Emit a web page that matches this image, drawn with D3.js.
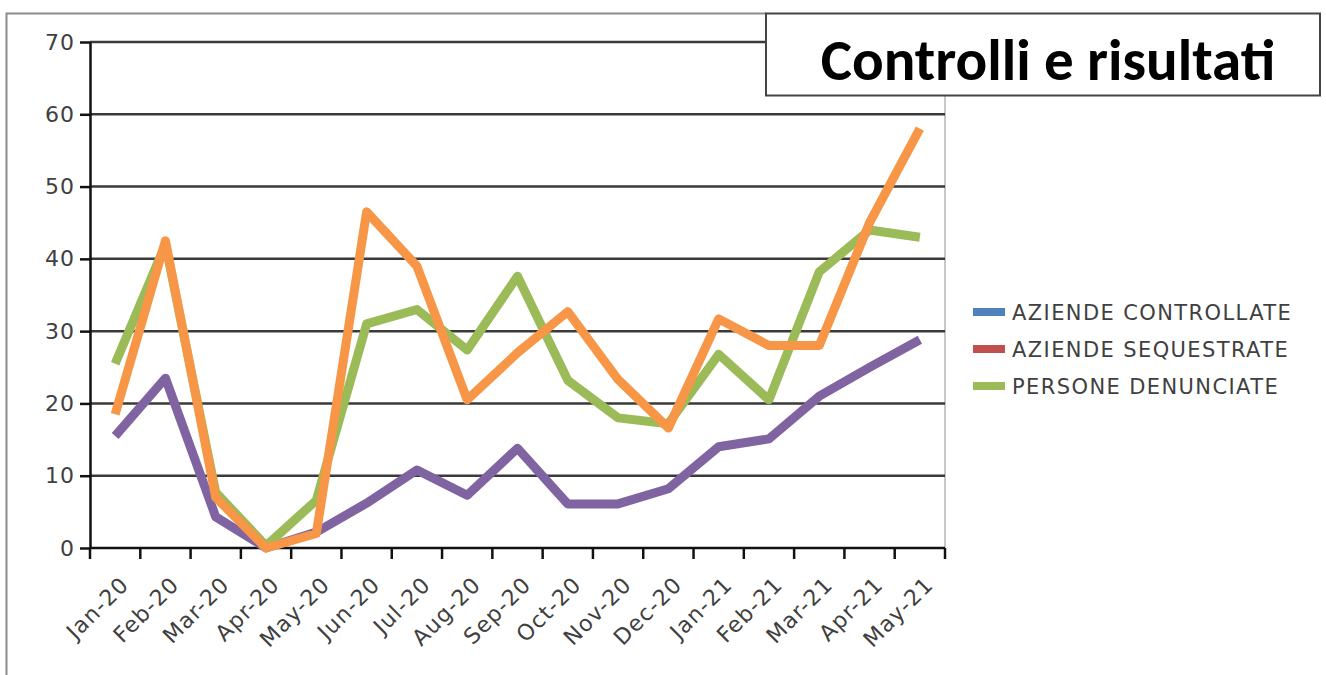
<!DOCTYPE html>
<html>
<head>
<meta charset="utf-8">
<script src="https://cdn.jsdelivr.net/npm/d3@7/dist/d3.min.js"></script>
<style>
  body { margin: 0; background: #fff; }
  svg { display: block; font-family: 'DejaVu Sans', Verdana, sans-serif; }
</style>
</head>
<body>
<div class="graph"><svg></svg></div>
<script>
// data
const months = ['Jan-20', 'Feb-20', 'Mar-20', 'Apr-20', 'May-20', 'Jun-20', 'Jul-20', 'Aug-20',
  'Sep-20', 'Oct-20', 'Nov-20', 'Dec-20', 'Jan-21', 'Feb-21', 'Mar-21', 'Apr-21', 'May-21']
const purpleValues = [15.5, 23.5, 4.3, 0, 2.2, 6.2, 10.8, 7.3, 13.8, 6.1, 6.1, 8.2, 14, 15.1, 21, 25, 28.8]
const orangeValues = [18.5, 42.5, 7, 0, 2, 46.5, 39, 20.5, 27, 32.7, 23.3, 16.6, 31.7, 28, 28, 45, 58]
const greenValues = [25.5, 42, 7.7, 0.3, 6.6, 31, 33, 27.4, 37.6, 23.2, 18, 17.2, 26.8, 20.5, 38.2, 44, 43]
const legendLabels = ['AZIENDE CONTROLLATE', 'AZIENDE SEQUESTRATE', 'PERSONE DENUNCIATE']
const legendColors = ['#4f81bd', '#c0504d', '#9bbb59']
const yTicks = [0, 10, 20, 30, 40, 50, 60, 70]
const title = 'Controlli e risultati'

const width = 1326
const height = 675
const margin = { left: 90, top: 42, right: 381, bottom: 127 }
const plotW = width - margin.left - margin.right
const plotH = height - margin.top - margin.bottom

const svg = d3.select('.graph').select('svg')
  .attr('width', width)
  .attr('height', height)

// outer frame (left + top edges visible)
svg.append('path')
  .attr('d', 'M6.5,675 V13.5 H766')
  .attr('fill', 'none')
  .attr('stroke', '#8c8c8c')
  .attr('stroke-width', 2)

const g = svg.append('g')
  .attr('transform', 'translate(' + margin.left + ',' + margin.top + ')')

const x = d3.scaleBand().domain(months).range([0, plotW])
const y = d3.scaleLinear().domain([0, 70]).range([plotH, 0])

// right edge of plot area
g.append('line')
  .attr('x1', plotW).attr('x2', plotW)
  .attr('y1', 53).attr('y2', plotH)
  .attr('stroke', '#c8c8c8')
  .attr('stroke-width', 2)

// gridlines
g.append('g')
  .selectAll('line')
  .data(yTicks.filter(d => d > 0))
  .join('line')
  .attr('x1', 0)
  .attr('x2', d => d === 70 ? 766 - margin.left : plotW)
  .attr('y1', d => y(d))
  .attr('y2', d => y(d))
  .attr('stroke', '#3a3a3a')
  .attr('stroke-width', 2.5)

// y axis
const yAxis = g.append('g')
  .call(d3.axisLeft(y).tickValues(yTicks).tickSize(10).tickPadding(5).tickSizeOuter(0))
yAxis.select('.domain').attr('stroke', '#111').attr('stroke-width', 2.5)
yAxis.selectAll('.tick line').attr('stroke', '#111').attr('stroke-width', 2.5)
yAxis.selectAll('text')
  .attr('font-size', 22)
  .attr('letter-spacing', 1)
  .attr('fill', '#404040')
  .attr('font-family', "'DejaVu Sans', Verdana, sans-serif")

// x axis, ticks on band boundaries
const xAxis = g.append('g')
  .attr('transform', 'translate(0,' + plotH + ')')
xAxis.append('line')
  .attr('x1', 0).attr('x2', plotW)
  .attr('stroke', '#111').attr('stroke-width', 2.5)
xAxis.selectAll('.btick')
  .data(months.concat(['end']))
  .join('line')
  .attr('class', 'btick')
  .attr('x1', (d, i) => x.step() * i)
  .attr('x2', (d, i) => x.step() * i)
  .attr('y1', 0).attr('y2', 11)
  .attr('stroke', '#111').attr('stroke-width', 2.5)
xAxis.selectAll('.xlabel')
  .data(months)
  .join('text')
  .attr('class', 'xlabel')
  .attr('text-anchor', 'end')
  .attr('font-size', 22)
  .attr('letter-spacing', 1.2)
  .attr('fill', '#404040')
  .attr('transform', d => 'translate(' + (x(d) + x.bandwidth() / 2 + 15) + ',38) rotate(-45)')
  .text(d => d)

// lines
const line = d3.line()
  .x((d, i) => x(months[i]) + x.bandwidth() / 2)
  .y(d => y(d))

const series = [
  { values: purpleValues, color: '#8064a2' },
  { values: greenValues, color: '#9bbb59' },
  { values: orangeValues, color: '#f79646' }
]
g.append('g')
  .selectAll('path')
  .data(series)
  .join('path')
  .attr('d', d => line(d.values))
  .attr('fill', 'none')
  .attr('stroke', d => d.color)
  .attr('stroke-width', 9)
  .attr('stroke-linejoin', 'round')

// title box
svg.append('rect')
  .attr('x', 766).attr('y', 13.5)
  .attr('width', 554).attr('height', 82)
  .attr('fill', '#fff')
  .attr('stroke', '#444')
  .attr('stroke-width', 2)
svg.append('text')
  .attr('x', 1048).attr('y', 80)
  .attr('text-anchor', 'middle')
  .attr('font-size', 59)
  .attr('font-weight', 'bold')
  .attr('font-family', "Carlito, 'Open Sans', 'Noto Sans', sans-serif")
  .attr('fill', '#000')
  .text(title)

// legend
const legend = svg.append('g')
  .attr('transform', 'translate(973,312)')
const items = legend.selectAll('g')
  .data(legendLabels)
  .join('g')
  .attr('transform', (d, i) => 'translate(0,' + i * 37 + ')')
items.append('rect')
  .attr('x', 0).attr('y', -4)
  .attr('width', 32).attr('height', 8)
  .attr('fill', (d, i) => legendColors[i])
items.append('text')
  .attr('x', 39).attr('y', 8)
  .attr('font-size', 21)
  .attr('letter-spacing', 1.4)
  .attr('fill', '#404040')
  .text(d => d)
</script>
</body>
</html>
